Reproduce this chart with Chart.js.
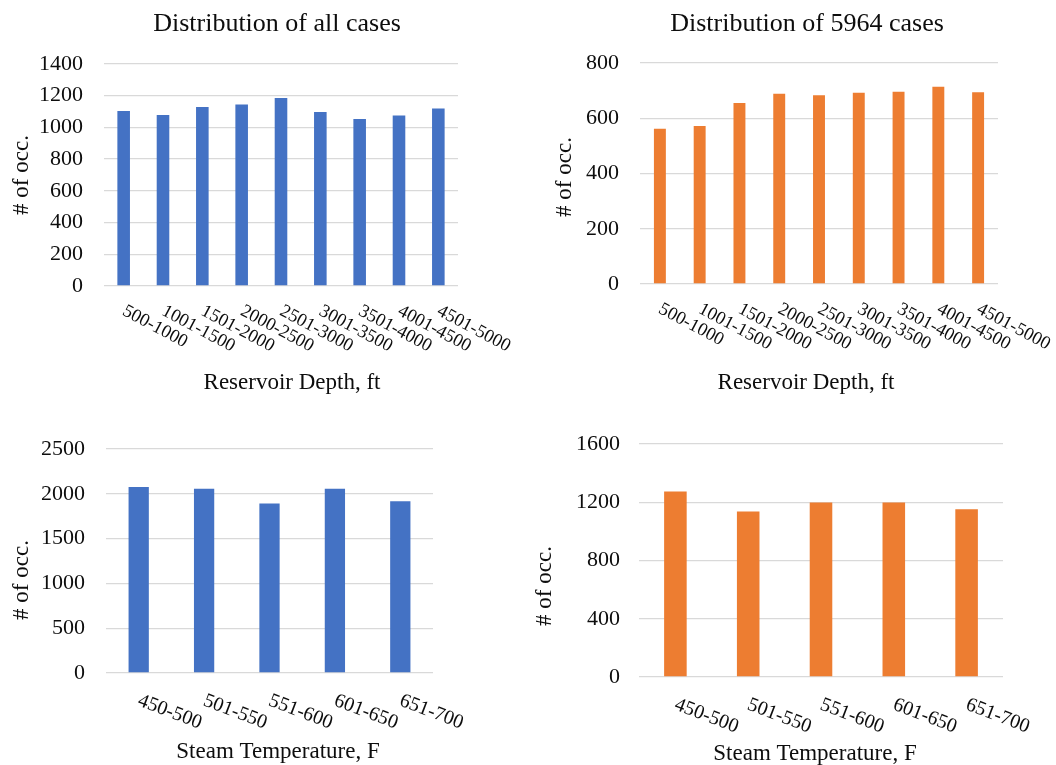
<!DOCTYPE html>
<html>
<head>
<meta charset="utf-8">
<script src="https://cdn.jsdelivr.net/npm/chart.js@4.4.0/dist/chart.umd.min.js"></script>
<style>
  body { margin: 0; background: #fff; }
  #wrap { position: relative; width: 1056px; height: 765px; }
  canvas { position: absolute; }
</style>
</head>
<body>
<div id="wrap">
  <canvas id="c1" width="528" height="400" style="left:0;top:0"></canvas>
  <canvas id="c2" width="528" height="400" style="left:528px;top:0"></canvas>
  <canvas id="c3" width="528" height="365" style="left:0;top:400px"></canvas>
  <canvas id="c4" width="528" height="365" style="left:528px;top:400px"></canvas>
</div>
<script>
const depthLabels = ["500-1000", "1001-1500", "1501-2000", "2000-2500", "2501-3000",
  "3001-3500", "3501-4000", "4001-4500", "4501-5000"];
const depthAll = [1104, 1078, 1129, 1144, 1186, 1097, 1053, 1076, 1120];
const depthSub = [562, 572, 655, 689, 683, 692, 696, 714, 694];

const tempLabels = ["450-500", "501-550", "551-600", "601-650", "651-700"];
const tempAll = [2077, 2055, 1892, 2055, 1918];
const tempSub = [1273, 1136, 1198, 1198, 1152];

const blue = "#4472C4";
const orange = "#ED7D31";
const serif = '"Liberation Serif", "Times New Roman", serif';

// titles and slanted category labels, drawn around the plot area
const decor = {
  id: "decor",
  afterDraw(chart, args, o) {
    const ctx = chart.ctx;
    const area = chart.chartArea;
    const xs = chart.scales.x;
    ctx.save();
    ctx.fillStyle = "#0d0d0d";
    ctx.textAlign = "center";
    ctx.textBaseline = "middle";
    if (o.title) {
      ctx.font = "26px " + serif;
      ctx.fillText(o.title, o.titleX, o.titleY);
    }
    ctx.font = "23px " + serif;
    ctx.fillText(o.xTitle, o.xTitleX, o.xTitleY);
    ctx.save();
    ctx.translate(o.yTitleX, o.yTitleY);
    ctx.rotate(-Math.PI / 2);
    ctx.fillText("# of occ.", 0, 0);
    ctx.restore();

    ctx.font = o.labelSize + "px " + serif;
    ctx.textAlign = "left";
    xs.ticks.forEach(function (t, i) {
      ctx.save();
      ctx.translate(xs.getPixelForTick(i), area.bottom + o.labelDy);
      ctx.rotate(o.angle * Math.PI / 180);
      ctx.fillText(chart.data.labels[i], 0, 0);
      ctx.restore();
    });
    ctx.restore();
  }
};

function makeChart(id, labels, values, color, yMax, yStep, pad, tickPad, barPct, deco) {
  const ctx = document.getElementById(id).getContext("2d");
  return new Chart(ctx, {
    type: "bar",
    data: {
      labels: labels,
      datasets: [{
        data: values,
        backgroundColor: color,
        barPercentage: barPct,
        categoryPercentage: 1
      }]
    },
    options: {
      responsive: false,
      animation: false,
      layout: { padding: { left: 0, top: pad.top, right: pad.right, bottom: pad.bottom } },
      plugins: {
        legend: { display: false },
        tooltip: { enabled: false },
        decor: deco
      },
      scales: {
        x: {
          grid: { display: false },
          border: { display: false },
          ticks: { display: false },
          afterFit: function (s) { s.height = 0; }
        },
        y: {
          min: 0,
          max: yMax,
          grid: { color: "#d9d9d9", lineWidth: 1.3, drawTicks: false },
          border: { display: false },
          ticks: {
            stepSize: yStep,
            padding: tickPad,
            color: "#0d0d0d",
            font: { family: serif, size: 22 },
            callback: function (v) { return String(v); }
          },
          afterFit: function (s) { s.width = pad.left; }
        }
      }
    },
    plugins: [decor]
  });
}

makeChart("c1", depthLabels, depthAll, blue, 1400, 200,
  { left: 104, top: 64, right: 70, bottom: 114 }, 21, 0.32,
  { title: "Distribution of all cases", titleX: 277, titleY: 24,
    xTitle: "Reservoir Depth, ft", xTitleX: 292, xTitleY: 383,
    yTitleX: 22, yTitleY: 175, labelSize: 18.5, angle: 28, labelDy: 24 });

makeChart("c2", depthLabels, depthSub, orange, 800, 200,
  { left: 112, top: 63, right: 58, bottom: 116 }, 21, 0.3,
  { title: "Distribution of 5964 cases", titleX: 279, titleY: 24,
    xTitle: "Reservoir Depth, ft", xTitleX: 278, xTitleY: 383,
    yTitleX: 37, yTitleY: 177, labelSize: 18.5, angle: 28, labelDy: 24 });

makeChart("c3", tempLabels, tempAll, blue, 2500, 500,
  { left: 106, top: 49, right: 95, bottom: 92 }, 21, 0.31,
  { xTitle: "Steam Temperature, F", xTitleX: 278, xTitleY: 352,
    yTitleX: 22, yTitleY: 180, labelSize: 20, angle: 21, labelDy: 27 });

makeChart("c4", tempLabels, tempSub, orange, 1600, 400,
  { left: 111, top: 44, right: 53, bottom: 88 }, 19, 0.31,
  { xTitle: "Steam Temperature, F", xTitleX: 287, xTitleY: 354,
    yTitleX: 17, yTitleY: 186, labelSize: 20, angle: 21, labelDy: 27 });
</script>
</body>
</html>
